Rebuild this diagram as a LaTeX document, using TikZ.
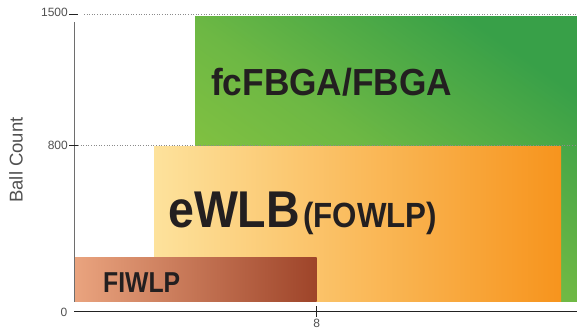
\documentclass[tikz,border=0pt]{standalone}
\usepackage{fontspec}
\setmainfont{Liberation Sans}
\usepackage{graphicx}
\definecolor{txt}{HTML}{231F20}
\definecolor{axgray}{HTML}{6E6E6E}
\definecolor{axdark}{HTML}{222222}
\definecolor{lblgray}{HTML}{505050}
\definecolor{grnL}{HTML}{8DC63F}
\definecolor{grnM}{HTML}{6DB844}
\definecolor{grnR}{HTML}{38A048}
\definecolor{orL}{HTML}{FDE29C}
\definecolor{orR}{HTML}{F7941D}
\definecolor{fiL}{HTML}{EAA47F}
\definecolor{fiR}{HTML}{9E4429}
\begin{document}
\begin{tikzpicture}[x=1pt,y=-1pt,
  big/.style={inner sep=0pt, anchor=base west, text=txt, font=\bfseries},
  ticklbl/.style={inner sep=0pt, text=lblgray, font=\fontsize{12}{12}\selectfont},
  gridln/.style={draw=axgray!80, dotted, line width=0.6pt}]
\useasboundingbox (0,0) rectangle (577,330);
% bars
\shade[left color=grnL, right color=grnR, middle color=grnM, shading angle=145] (195,16) rectangle (577,301.5);
\shade[left color=orL, right color=orR] (154,146) rectangle (561,301.5);
\shade[left color=fiL, right color=fiR] (74,257) rectangle (316.7,301.5);
% grid lines
\draw[gridln] (84,14.7) -- (577,14.7);
\draw[gridln] (78,145.7) -- (577,145.7);
% axes
\coordinate (ytop) at (74,22);
\coordinate (ybot) at (74,301.5);
\coordinate (xl) at (74,311.5);
\coordinate (xr) at (577,311.5);
\draw[axgray, line width=1pt] (ytop) -- (ybot);
\draw[axdark, line width=1.2pt] (xl) -- (xr);
\coordinate (t15a) at (69,14.7); \coordinate (t15b) at (78,14.7);
\coordinate (t8a) at (69,145.7); \coordinate (t8b) at (78,145.7);
\coordinate (tx8a) at (316.7,306); \coordinate (tx8b) at (316.7,316.5);
\draw[axdark, line width=0.9pt] (t15a) -- (t15b);
\draw[axdark, line width=0.9pt] (t8a) -- (t8b);
\draw[axdark, line width=0.9pt] (tx8a) -- (tx8b);
% tick labels
\node[ticklbl, anchor=east] (l1500) at (68,12) {1500};
\node[ticklbl, anchor=east] (l800) at (68,145.5) {800};
\node[ticklbl, anchor=east] (l0) at (67.5,312.5) {0};
\node[ticklbl, anchor=north] (l8) at (316.7,319) {8};
\node[inner sep=0pt, text=lblgray, rotate=90, font=\fontsize{18.5}{18.5}\selectfont] (ylab) at (16,160) {Ball Count};
% bar labels
\node[big] (fc) at (211,95) {\fontsize{37.7}{37.7}\selectfont\scalebox{0.935}[1]{fcFBGA/FBGA}};
\node[big] (ewlb) at (168,227) {\fontsize{51.7}{51.7}\selectfont\scalebox{0.9}[1]{eWLB}};
\node[big] (fowlp) at (303,227) {\fontsize{35}{35}\selectfont\scalebox{0.895}[1]{(FOWLP)}};
\node[big] (fiwlp) at (103,292.3) {\fontsize{28.8}{28.8}\selectfont\scalebox{0.86}[1]{FIWLP}};
\end{tikzpicture}
\end{document}
